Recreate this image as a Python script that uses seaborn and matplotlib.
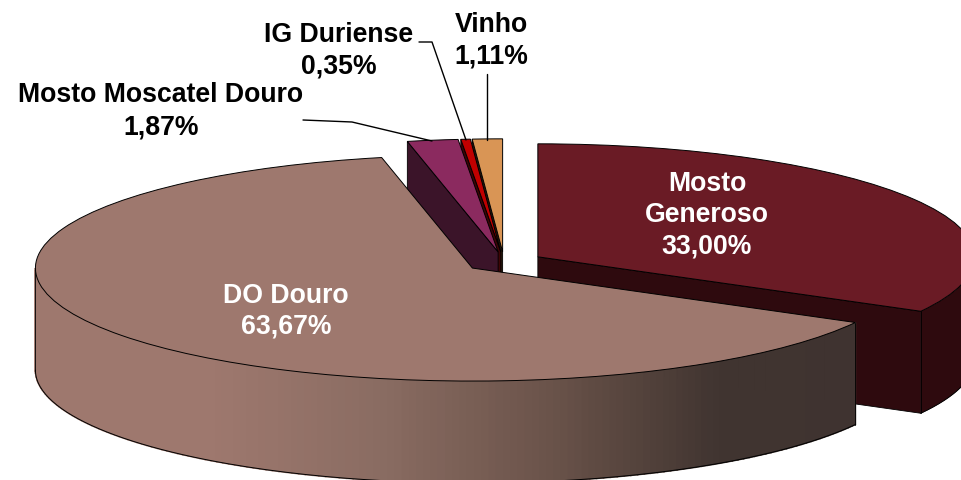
import numpy as np
import matplotlib
matplotlib.use("Agg")
import matplotlib.pyplot as plt
import seaborn as sns

categories = ["Mosto Generoso", "DO Douro", "Mosto Moscatel Douro", "IG Duriense", "Vinho"]
shares = [33.00, 63.67, 1.87, 0.35, 1.11]
share_labels = ["33,00%", "63,67%", "1,87%", "0,35%", "1,11%"]

top_colors = ["#6A1B25", "#9E786E", "#8B2A5F", "#C00000", "#D99555"]
wall_colors = ["#2E0A0E", "#9E786E", "#3B1429", "#3D0505", "#2A1A0C"]
explode = [0.09] * 5

WIDTH, HEIGHT = 962, 480
CX, CY, RX, RY = 504, 262, 437, 113
DEPTH = 102 / RY


def to_xy(px, py):
    return (px - CX) / RX, (CY - py) / RY


def rim(center, t1, t2, n=160):
    t = np.radians(np.linspace(t1, t2, n))
    return center[0] + np.cos(t), center[1] + np.sin(t)


sns.set_theme(style="white")
plt.rcParams["font.family"] = ["Liberation Sans", "DejaVu Sans"]

fig = plt.figure(figsize=(WIDTH / 100, HEIGHT / 100), dpi=100)
ax = fig.add_axes([0, 0, 1, 1])
wedges, _ = ax.pie(shares, explode=explode, startangle=90, counterclock=False, colors=top_colors,
                   radius=1, wedgeprops={"edgecolor": "black", "linewidth": 0.7})
ax.set_aspect("auto")
ax.set_xlim(-CX / RX, (WIDTH - CX) / RX)
ax.set_ylim((CY - HEIGHT) / RY, CY / RY)

# back to front: small slices right to left, then Generoso, then the big one
order = [4, 3, 2, 0, 1]
fade = sns.blend_palette(["#9E786E", "#9E786E", "#8A6C62", "#6A534A", "#403430", "#3F3330"], as_cmap=True)
for z, i in enumerate(order):
    w = wedges[i]
    c = w.center
    base = 2 * z + 2
    w.set_zorder(base + 1)
    # radial side faces, only those turned to the viewer
    a = None
    if i == 0:
        a = np.radians(w.theta1)
    elif i != 1:
        a = np.radians(w.theta2)
    if a is not None:
        ex, ey = c[0] + np.cos(a), c[1] + np.sin(a)
        ax.fill([c[0], ex, ex, c[0]], [c[1], ey, ey - DEPTH, c[1] - DEPTH],
                color=wall_colors[i], ec="black", lw=0.6, zorder=base)
    # only the front half of the rim shows
    if i == 0:
        t1, t2 = w.theta1, 0
    elif i == 1:
        t1, t2 = -180, w.theta2 if w.theta2 < 0 else 0
    else:
        continue
    x, y = rim(c, t1, t2)
    if i == 1:
        for k in range(len(x) - 1):
            color = fade((x[k] + 1.07) / 1.95)
            ax.fill([x[k], x[k + 1], x[k + 1], x[k]], [y[k], y[k + 1], y[k + 1] - DEPTH, y[k] - DEPTH],
                    color=color, lw=1.2, zorder=base)
    else:
        ax.fill(np.r_[x, x[::-1]], np.r_[y, y[::-1] - DEPTH], color=wall_colors[i], lw=0.3, zorder=base)
    ax.plot(x, y - DEPTH, color="black", lw=0.7, zorder=base)
    ax.plot([x[0], x[0]], [y[0], y[0] - DEPTH], color="black", lw=0.6, zorder=base)
    ax.plot([x[-1], x[-1]], [y[-1], y[-1] - DEPTH], color="black", lw=0.6, zorder=base)

# leader lines
leaders = [[(303, 120), (352, 122), (432, 141)],
           [(419, 42), (432, 42), (466, 140)],
           [(487.5, 74), (487.5, 140)]]
for pts in leaders:
    xy = [to_xy(*p) for p in pts]
    ax.plot([p[0] for p in xy], [p[1] for p in xy], color="black", lw=1, zorder=30)

text_kw = {"ha": "center", "va": "center", "fontweight": "bold", "fontsize": 19.2, "zorder": 40}
ax.text(*to_xy(707, 215), "Mosto\nGeneroso\n" + share_labels[0], color="white", linespacing=1.25, **text_kw)
ax.text(*to_xy(286, 311.5), categories[1] + "\n" + share_labels[1], color="white", linespacing=1.25, **text_kw)
ax.text(*to_xy(161, 111), categories[2] + "\n" + share_labels[2], color="black", linespacing=1.33, **text_kw)
ax.text(*to_xy(339, 51), categories[3] + "\n" + share_labels[3], color="black", linespacing=1.25, **text_kw)
ax.text(*to_xy(491, 41), categories[4] + "\n" + share_labels[4], color="black", linespacing=1.25, **text_kw)

fig.savefig("out.png", dpi=100, facecolor="white")
